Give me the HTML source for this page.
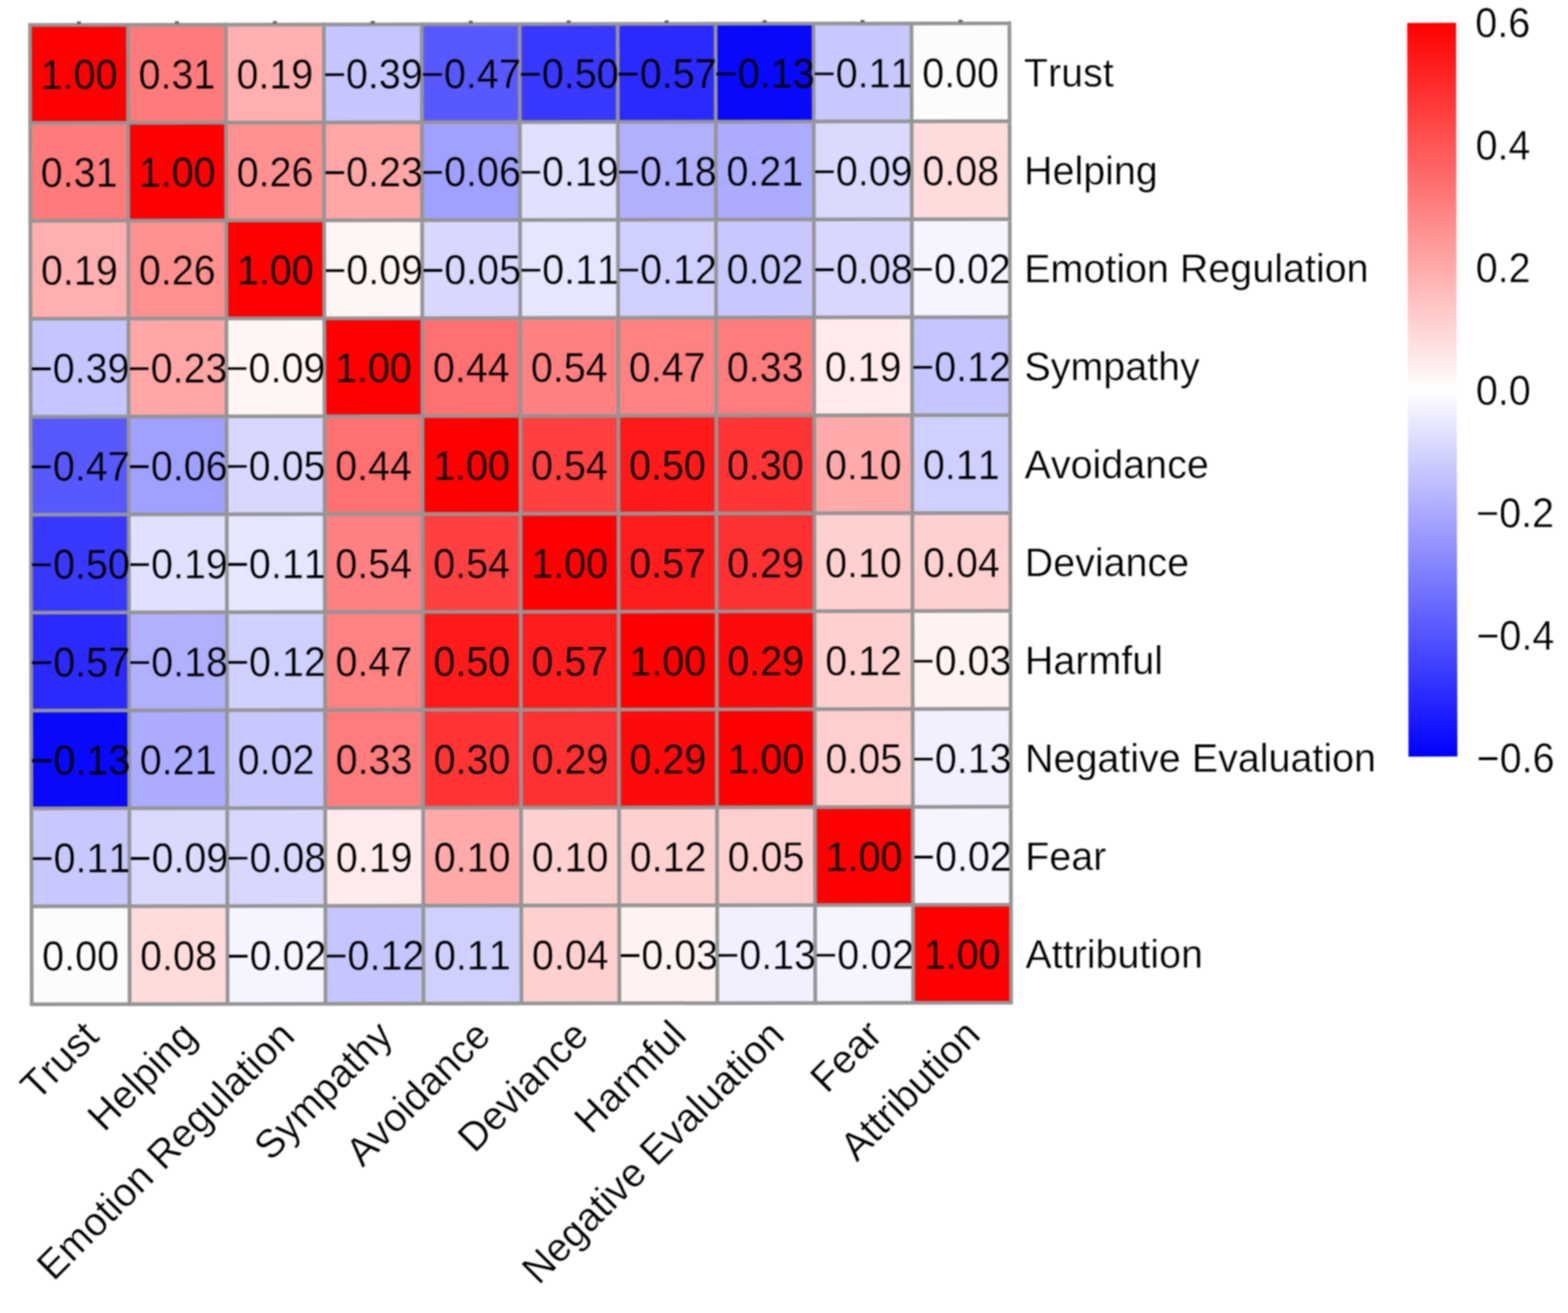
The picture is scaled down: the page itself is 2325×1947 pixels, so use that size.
<!DOCTYPE html>
<html><head><meta charset="utf-8"><title>Correlation heatmap</title>
<style>html,body{margin:0;padding:0;background:#fff;}svg{display:block;filter:blur(0.8px);}text{font-family:"Liberation Sans",Arial,Helvetica,sans-serif;fill:#000;font-kerning:none;font-feature-settings:"kern" 0,"liga" 0;}</style></head><body>
<svg width="2325" height="1947" viewBox="0 0 2325 1947">
<rect x="0" y="0" width="2325" height="1947" fill="#fff"/>
<g transform="rotate(-0.1)">
<g shape-rendering="crispEdges">
<rect x="44.40" y="37.10" width="145.23" height="145.23" fill="#FF0000"/>
<rect x="189.63" y="37.10" width="145.23" height="145.23" fill="#FF7B7B"/>
<rect x="334.86" y="37.10" width="145.23" height="145.23" fill="#FFAFAF"/>
<rect x="480.09" y="37.10" width="145.23" height="145.23" fill="#C5C5FF"/>
<rect x="625.32" y="37.10" width="145.23" height="145.23" fill="#5858FF"/>
<rect x="770.55" y="37.10" width="145.23" height="145.23" fill="#3838FF"/>
<rect x="915.78" y="37.10" width="145.23" height="145.23" fill="#2A2AFF"/>
<rect x="1061.01" y="37.10" width="145.23" height="145.23" fill="#0808FC"/>
<rect x="1206.24" y="37.10" width="145.23" height="145.23" fill="#C8C8FF"/>
<rect x="1351.47" y="37.10" width="145.23" height="145.23" fill="#FEFCFA"/>
<rect x="44.40" y="182.33" width="145.23" height="145.23" fill="#FF7B7B"/>
<rect x="189.63" y="182.33" width="145.23" height="145.23" fill="#FF0000"/>
<rect x="334.86" y="182.33" width="145.23" height="145.23" fill="#FF9090"/>
<rect x="480.09" y="182.33" width="145.23" height="145.23" fill="#FFA6A6"/>
<rect x="625.32" y="182.33" width="145.23" height="145.23" fill="#A0A0FF"/>
<rect x="770.55" y="182.33" width="145.23" height="145.23" fill="#E0E0FF"/>
<rect x="915.78" y="182.33" width="145.23" height="145.23" fill="#B0B0FF"/>
<rect x="1061.01" y="182.33" width="145.23" height="145.23" fill="#ABABFF"/>
<rect x="1206.24" y="182.33" width="145.23" height="145.23" fill="#DADAFF"/>
<rect x="1351.47" y="182.33" width="145.23" height="145.23" fill="#FFDCDC"/>
<rect x="44.40" y="327.56" width="145.23" height="145.23" fill="#FFAFAF"/>
<rect x="189.63" y="327.56" width="145.23" height="145.23" fill="#FF9090"/>
<rect x="334.86" y="327.56" width="145.23" height="145.23" fill="#FF0000"/>
<rect x="480.09" y="327.56" width="145.23" height="145.23" fill="#FFF5F5"/>
<rect x="625.32" y="327.56" width="145.23" height="145.23" fill="#D8D8FF"/>
<rect x="770.55" y="327.56" width="145.23" height="145.23" fill="#E6E6FF"/>
<rect x="915.78" y="327.56" width="145.23" height="145.23" fill="#D0D0FF"/>
<rect x="1061.01" y="327.56" width="145.23" height="145.23" fill="#C8C8FF"/>
<rect x="1206.24" y="327.56" width="145.23" height="145.23" fill="#D8D8FF"/>
<rect x="1351.47" y="327.56" width="145.23" height="145.23" fill="#F5F5FF"/>
<rect x="44.40" y="472.79" width="145.23" height="145.23" fill="#C5C5FF"/>
<rect x="189.63" y="472.79" width="145.23" height="145.23" fill="#FFA6A6"/>
<rect x="334.86" y="472.79" width="145.23" height="145.23" fill="#FFF5F5"/>
<rect x="480.09" y="472.79" width="145.23" height="145.23" fill="#FF0000"/>
<rect x="625.32" y="472.79" width="145.23" height="145.23" fill="#FF7070"/>
<rect x="770.55" y="472.79" width="145.23" height="145.23" fill="#FF8080"/>
<rect x="915.78" y="472.79" width="145.23" height="145.23" fill="#FF8282"/>
<rect x="1061.01" y="472.79" width="145.23" height="145.23" fill="#FF7C7C"/>
<rect x="1206.24" y="472.79" width="145.23" height="145.23" fill="#FFEBEB"/>
<rect x="1351.47" y="472.79" width="145.23" height="145.23" fill="#C5C5FF"/>
<rect x="44.40" y="618.02" width="145.23" height="145.23" fill="#5858FF"/>
<rect x="189.63" y="618.02" width="145.23" height="145.23" fill="#A0A0FF"/>
<rect x="334.86" y="618.02" width="145.23" height="145.23" fill="#D8D8FF"/>
<rect x="480.09" y="618.02" width="145.23" height="145.23" fill="#FF7070"/>
<rect x="625.32" y="618.02" width="145.23" height="145.23" fill="#FF0000"/>
<rect x="770.55" y="618.02" width="145.23" height="145.23" fill="#FF4040"/>
<rect x="915.78" y="618.02" width="145.23" height="145.23" fill="#FF1A1A"/>
<rect x="1061.01" y="618.02" width="145.23" height="145.23" fill="#FF3535"/>
<rect x="1206.24" y="618.02" width="145.23" height="145.23" fill="#FFAAAA"/>
<rect x="1351.47" y="618.02" width="145.23" height="145.23" fill="#D0D0FF"/>
<rect x="44.40" y="763.25" width="145.23" height="145.23" fill="#3838FF"/>
<rect x="189.63" y="763.25" width="145.23" height="145.23" fill="#E0E0FF"/>
<rect x="334.86" y="763.25" width="145.23" height="145.23" fill="#E6E6FF"/>
<rect x="480.09" y="763.25" width="145.23" height="145.23" fill="#FF8080"/>
<rect x="625.32" y="763.25" width="145.23" height="145.23" fill="#FF4040"/>
<rect x="770.55" y="763.25" width="145.23" height="145.23" fill="#FF0000"/>
<rect x="915.78" y="763.25" width="145.23" height="145.23" fill="#FF1C1C"/>
<rect x="1061.01" y="763.25" width="145.23" height="145.23" fill="#FF3030"/>
<rect x="1206.24" y="763.25" width="145.23" height="145.23" fill="#FFD0D0"/>
<rect x="1351.47" y="763.25" width="145.23" height="145.23" fill="#FFD0D0"/>
<rect x="44.40" y="908.48" width="145.23" height="145.23" fill="#2A2AFF"/>
<rect x="189.63" y="908.48" width="145.23" height="145.23" fill="#B0B0FF"/>
<rect x="334.86" y="908.48" width="145.23" height="145.23" fill="#D0D0FF"/>
<rect x="480.09" y="908.48" width="145.23" height="145.23" fill="#FF8282"/>
<rect x="625.32" y="908.48" width="145.23" height="145.23" fill="#FF1A1A"/>
<rect x="770.55" y="908.48" width="145.23" height="145.23" fill="#FF1C1C"/>
<rect x="915.78" y="908.48" width="145.23" height="145.23" fill="#FF0000"/>
<rect x="1061.01" y="908.48" width="145.23" height="145.23" fill="#FF0A0A"/>
<rect x="1206.24" y="908.48" width="145.23" height="145.23" fill="#FFD0D0"/>
<rect x="1351.47" y="908.48" width="145.23" height="145.23" fill="#FFF2F2"/>
<rect x="44.40" y="1053.71" width="145.23" height="145.23" fill="#0808FC"/>
<rect x="189.63" y="1053.71" width="145.23" height="145.23" fill="#ABABFF"/>
<rect x="334.86" y="1053.71" width="145.23" height="145.23" fill="#C8C8FF"/>
<rect x="480.09" y="1053.71" width="145.23" height="145.23" fill="#FF7C7C"/>
<rect x="625.32" y="1053.71" width="145.23" height="145.23" fill="#FF3535"/>
<rect x="770.55" y="1053.71" width="145.23" height="145.23" fill="#FF3030"/>
<rect x="915.78" y="1053.71" width="145.23" height="145.23" fill="#FF0A0A"/>
<rect x="1061.01" y="1053.71" width="145.23" height="145.23" fill="#FF0000"/>
<rect x="1206.24" y="1053.71" width="145.23" height="145.23" fill="#FFCFCF"/>
<rect x="1351.47" y="1053.71" width="145.23" height="145.23" fill="#F0F0FF"/>
<rect x="44.40" y="1198.94" width="145.23" height="145.23" fill="#C8C8FF"/>
<rect x="189.63" y="1198.94" width="145.23" height="145.23" fill="#DADAFF"/>
<rect x="334.86" y="1198.94" width="145.23" height="145.23" fill="#D8D8FF"/>
<rect x="480.09" y="1198.94" width="145.23" height="145.23" fill="#FFEBEB"/>
<rect x="625.32" y="1198.94" width="145.23" height="145.23" fill="#FFAAAA"/>
<rect x="770.55" y="1198.94" width="145.23" height="145.23" fill="#FFD0D0"/>
<rect x="915.78" y="1198.94" width="145.23" height="145.23" fill="#FFD0D0"/>
<rect x="1061.01" y="1198.94" width="145.23" height="145.23" fill="#FFCFCF"/>
<rect x="1206.24" y="1198.94" width="145.23" height="145.23" fill="#FF0000"/>
<rect x="1351.47" y="1198.94" width="145.23" height="145.23" fill="#F5F5FF"/>
<rect x="44.40" y="1344.17" width="145.23" height="145.23" fill="#FEFCFA"/>
<rect x="189.63" y="1344.17" width="145.23" height="145.23" fill="#FFDCDC"/>
<rect x="334.86" y="1344.17" width="145.23" height="145.23" fill="#F5F5FF"/>
<rect x="480.09" y="1344.17" width="145.23" height="145.23" fill="#C5C5FF"/>
<rect x="625.32" y="1344.17" width="145.23" height="145.23" fill="#D0D0FF"/>
<rect x="770.55" y="1344.17" width="145.23" height="145.23" fill="#FFD0D0"/>
<rect x="915.78" y="1344.17" width="145.23" height="145.23" fill="#FFF2F2"/>
<rect x="1061.01" y="1344.17" width="145.23" height="145.23" fill="#F0F0FF"/>
<rect x="1206.24" y="1344.17" width="145.23" height="145.23" fill="#F5F5FF"/>
<rect x="1351.47" y="1344.17" width="145.23" height="145.23" fill="#FF0000"/>
</g>
<path d="M44.40 34.35V1492.15M41.65 37.10H1499.45M189.63 34.35V1492.15M41.65 182.33H1499.45M334.86 34.35V1492.15M41.65 327.56H1499.45M480.09 34.35V1492.15M41.65 472.79H1499.45M625.32 34.35V1492.15M41.65 618.02H1499.45M770.55 34.35V1492.15M41.65 763.25H1499.45M915.78 34.35V1492.15M41.65 908.48H1499.45M1061.01 34.35V1492.15M41.65 1053.71H1499.45M1206.24 34.35V1492.15M41.65 1198.94H1499.45M1351.47 34.35V1492.15M41.65 1344.17H1499.45M1496.70 34.35V1492.15M41.65 1489.40H1499.45" stroke="#959595" stroke-width="5.5" fill="none"/>
<rect x="114.01" y="31.85" width="6" height="4" fill="#666"/><rect x="259.24" y="31.85" width="6" height="4" fill="#666"/><rect x="404.47" y="31.85" width="6" height="4" fill="#666"/><rect x="549.70" y="31.85" width="6" height="4" fill="#666"/><rect x="694.93" y="31.85" width="6" height="4" fill="#666"/><rect x="840.16" y="31.85" width="6" height="4" fill="#666"/><rect x="985.39" y="31.85" width="6" height="4" fill="#666"/><rect x="1130.62" y="31.85" width="6" height="4" fill="#666"/><rect x="1275.86" y="31.85" width="6" height="4" fill="#666"/><rect x="1421.09" y="31.85" width="6" height="4" fill="#666"/>
<g font-size="58.5" text-anchor="middle">
<text transform="translate(117.01,132.02) scale(1,1.056)" stroke="#FF0000" stroke-width="0.5">1.00</text>
<text transform="translate(262.24,132.02) scale(1,1.056)" stroke="#FF7B7B" stroke-width="0.5">0.31</text>
<text transform="translate(407.47,132.02) scale(1,1.056)" stroke="#FFAFAF" stroke-width="0.5">0.19</text>
<text transform="translate(552.70,132.02) scale(1,1.056)" stroke="#C5C5FF" stroke-width="0.5">−0.39</text>
<text transform="translate(697.93,132.02) scale(1,1.056)" stroke="#5858FF" stroke-width="0.5">−0.47</text>
<text transform="translate(843.16,132.02) scale(1,1.056)" stroke="#3838FF" stroke-width="0.5">−0.50</text>
<text transform="translate(988.39,132.02) scale(1,1.056)" stroke="#2A2AFF" stroke-width="0.5">−0.57</text>
<text transform="translate(1133.62,132.02) scale(1,1.056)" stroke="#0808FC" stroke-width="0.5">−0.13</text>
<text transform="translate(1278.86,132.02) scale(1,1.056)" stroke="#C8C8FF" stroke-width="0.5">−0.11</text>
<text transform="translate(1424.09,132.02) scale(1,1.056)" stroke="#FEFCFA" stroke-width="0.5">0.00</text>
<text transform="translate(117.01,277.24) scale(1,1.056)" stroke="#FF7B7B" stroke-width="0.5">0.31</text>
<text transform="translate(262.24,277.24) scale(1,1.056)" stroke="#FF0000" stroke-width="0.5">1.00</text>
<text transform="translate(407.47,277.24) scale(1,1.056)" stroke="#FF9090" stroke-width="0.5">0.26</text>
<text transform="translate(552.70,277.24) scale(1,1.056)" stroke="#FFA6A6" stroke-width="0.5">−0.23</text>
<text transform="translate(697.93,277.24) scale(1,1.056)" stroke="#A0A0FF" stroke-width="0.5">−0.06</text>
<text transform="translate(843.16,277.24) scale(1,1.056)" stroke="#E0E0FF" stroke-width="0.5">−0.19</text>
<text transform="translate(988.39,277.24) scale(1,1.056)" stroke="#B0B0FF" stroke-width="0.5">−0.18</text>
<text transform="translate(1133.62,277.24) scale(1,1.056)" stroke="#ABABFF" stroke-width="0.5">0.21</text>
<text transform="translate(1278.86,277.24) scale(1,1.056)" stroke="#DADAFF" stroke-width="0.5">−0.09</text>
<text transform="translate(1424.09,277.24) scale(1,1.056)" stroke="#FFDCDC" stroke-width="0.5">0.08</text>
<text transform="translate(117.01,422.48) scale(1,1.056)" stroke="#FFAFAF" stroke-width="0.5">0.19</text>
<text transform="translate(262.24,422.48) scale(1,1.056)" stroke="#FF9090" stroke-width="0.5">0.26</text>
<text transform="translate(407.47,422.48) scale(1,1.056)" stroke="#FF0000" stroke-width="0.5">1.00</text>
<text transform="translate(552.70,422.48) scale(1,1.056)" stroke="#FFF5F5" stroke-width="0.5">−0.09</text>
<text transform="translate(697.93,422.48) scale(1,1.056)" stroke="#D8D8FF" stroke-width="0.5">−0.05</text>
<text transform="translate(843.16,422.48) scale(1,1.056)" stroke="#E6E6FF" stroke-width="0.5">−0.11</text>
<text transform="translate(988.39,422.48) scale(1,1.056)" stroke="#D0D0FF" stroke-width="0.5">−0.12</text>
<text transform="translate(1133.62,422.48) scale(1,1.056)" stroke="#C8C8FF" stroke-width="0.5">0.02</text>
<text transform="translate(1278.86,422.48) scale(1,1.056)" stroke="#D8D8FF" stroke-width="0.5">−0.08</text>
<text transform="translate(1424.09,422.48) scale(1,1.056)" stroke="#F5F5FF" stroke-width="0.5">−0.02</text>
<text transform="translate(117.01,567.70) scale(1,1.056)" stroke="#C5C5FF" stroke-width="0.5">−0.39</text>
<text transform="translate(262.24,567.70) scale(1,1.056)" stroke="#FFA6A6" stroke-width="0.5">−0.23</text>
<text transform="translate(407.47,567.70) scale(1,1.056)" stroke="#FFF5F5" stroke-width="0.5">−0.09</text>
<text transform="translate(552.70,567.70) scale(1,1.056)" stroke="#FF0000" stroke-width="0.5">1.00</text>
<text transform="translate(697.93,567.70) scale(1,1.056)" stroke="#FF7070" stroke-width="0.5">0.44</text>
<text transform="translate(843.16,567.70) scale(1,1.056)" stroke="#FF8080" stroke-width="0.5">0.54</text>
<text transform="translate(988.39,567.70) scale(1,1.056)" stroke="#FF8282" stroke-width="0.5">0.47</text>
<text transform="translate(1133.62,567.70) scale(1,1.056)" stroke="#FF7C7C" stroke-width="0.5">0.33</text>
<text transform="translate(1278.86,567.70) scale(1,1.056)" stroke="#FFEBEB" stroke-width="0.5">0.19</text>
<text transform="translate(1424.09,567.70) scale(1,1.056)" stroke="#C5C5FF" stroke-width="0.5">−0.12</text>
<text transform="translate(117.01,712.93) scale(1,1.056)" stroke="#5858FF" stroke-width="0.5">−0.47</text>
<text transform="translate(262.24,712.93) scale(1,1.056)" stroke="#A0A0FF" stroke-width="0.5">−0.06</text>
<text transform="translate(407.47,712.93) scale(1,1.056)" stroke="#D8D8FF" stroke-width="0.5">−0.05</text>
<text transform="translate(552.70,712.93) scale(1,1.056)" stroke="#FF7070" stroke-width="0.5">0.44</text>
<text transform="translate(697.93,712.93) scale(1,1.056)" stroke="#FF0000" stroke-width="0.5">1.00</text>
<text transform="translate(843.16,712.93) scale(1,1.056)" stroke="#FF4040" stroke-width="0.5">0.54</text>
<text transform="translate(988.39,712.93) scale(1,1.056)" stroke="#FF1A1A" stroke-width="0.5">0.50</text>
<text transform="translate(1133.62,712.93) scale(1,1.056)" stroke="#FF3535" stroke-width="0.5">0.30</text>
<text transform="translate(1278.86,712.93) scale(1,1.056)" stroke="#FFAAAA" stroke-width="0.5">0.10</text>
<text transform="translate(1424.09,712.93) scale(1,1.056)" stroke="#D0D0FF" stroke-width="0.5">0.11</text>
<text transform="translate(117.01,858.16) scale(1,1.056)" stroke="#3838FF" stroke-width="0.5">−0.50</text>
<text transform="translate(262.24,858.16) scale(1,1.056)" stroke="#E0E0FF" stroke-width="0.5">−0.19</text>
<text transform="translate(407.47,858.16) scale(1,1.056)" stroke="#E6E6FF" stroke-width="0.5">−0.11</text>
<text transform="translate(552.70,858.16) scale(1,1.056)" stroke="#FF8080" stroke-width="0.5">0.54</text>
<text transform="translate(697.93,858.16) scale(1,1.056)" stroke="#FF4040" stroke-width="0.5">0.54</text>
<text transform="translate(843.16,858.16) scale(1,1.056)" stroke="#FF0000" stroke-width="0.5">1.00</text>
<text transform="translate(988.39,858.16) scale(1,1.056)" stroke="#FF1C1C" stroke-width="0.5">0.57</text>
<text transform="translate(1133.62,858.16) scale(1,1.056)" stroke="#FF3030" stroke-width="0.5">0.29</text>
<text transform="translate(1278.86,858.16) scale(1,1.056)" stroke="#FFD0D0" stroke-width="0.5">0.10</text>
<text transform="translate(1424.09,858.16) scale(1,1.056)" stroke="#FFD0D0" stroke-width="0.5">0.04</text>
<text transform="translate(117.01,1003.39) scale(1,1.056)" stroke="#2A2AFF" stroke-width="0.5">−0.57</text>
<text transform="translate(262.24,1003.39) scale(1,1.056)" stroke="#B0B0FF" stroke-width="0.5">−0.18</text>
<text transform="translate(407.47,1003.39) scale(1,1.056)" stroke="#D0D0FF" stroke-width="0.5">−0.12</text>
<text transform="translate(552.70,1003.39) scale(1,1.056)" stroke="#FF8282" stroke-width="0.5">0.47</text>
<text transform="translate(697.93,1003.39) scale(1,1.056)" stroke="#FF1A1A" stroke-width="0.5">0.50</text>
<text transform="translate(843.16,1003.39) scale(1,1.056)" stroke="#FF1C1C" stroke-width="0.5">0.57</text>
<text transform="translate(988.39,1003.39) scale(1,1.056)" stroke="#FF0000" stroke-width="0.5">1.00</text>
<text transform="translate(1133.62,1003.39) scale(1,1.056)" stroke="#FF0A0A" stroke-width="0.5">0.29</text>
<text transform="translate(1278.86,1003.39) scale(1,1.056)" stroke="#FFD0D0" stroke-width="0.5">0.12</text>
<text transform="translate(1424.09,1003.39) scale(1,1.056)" stroke="#FFF2F2" stroke-width="0.5">−0.03</text>
<text transform="translate(117.01,1148.62) scale(1,1.056)" stroke="#0808FC" stroke-width="0.5">−0.13</text>
<text transform="translate(262.24,1148.62) scale(1,1.056)" stroke="#ABABFF" stroke-width="0.5">0.21</text>
<text transform="translate(407.47,1148.62) scale(1,1.056)" stroke="#C8C8FF" stroke-width="0.5">0.02</text>
<text transform="translate(552.70,1148.62) scale(1,1.056)" stroke="#FF7C7C" stroke-width="0.5">0.33</text>
<text transform="translate(697.93,1148.62) scale(1,1.056)" stroke="#FF3535" stroke-width="0.5">0.30</text>
<text transform="translate(843.16,1148.62) scale(1,1.056)" stroke="#FF3030" stroke-width="0.5">0.29</text>
<text transform="translate(988.39,1148.62) scale(1,1.056)" stroke="#FF0A0A" stroke-width="0.5">0.29</text>
<text transform="translate(1133.62,1148.62) scale(1,1.056)" stroke="#FF0000" stroke-width="0.5">1.00</text>
<text transform="translate(1278.86,1148.62) scale(1,1.056)" stroke="#FFCFCF" stroke-width="0.5">0.05</text>
<text transform="translate(1424.09,1148.62) scale(1,1.056)" stroke="#F0F0FF" stroke-width="0.5">−0.13</text>
<text transform="translate(117.01,1293.85) scale(1,1.056)" stroke="#C8C8FF" stroke-width="0.5">−0.11</text>
<text transform="translate(262.24,1293.85) scale(1,1.056)" stroke="#DADAFF" stroke-width="0.5">−0.09</text>
<text transform="translate(407.47,1293.85) scale(1,1.056)" stroke="#D8D8FF" stroke-width="0.5">−0.08</text>
<text transform="translate(552.70,1293.85) scale(1,1.056)" stroke="#FFEBEB" stroke-width="0.5">0.19</text>
<text transform="translate(697.93,1293.85) scale(1,1.056)" stroke="#FFAAAA" stroke-width="0.5">0.10</text>
<text transform="translate(843.16,1293.85) scale(1,1.056)" stroke="#FFD0D0" stroke-width="0.5">0.10</text>
<text transform="translate(988.39,1293.85) scale(1,1.056)" stroke="#FFD0D0" stroke-width="0.5">0.12</text>
<text transform="translate(1133.62,1293.85) scale(1,1.056)" stroke="#FFCFCF" stroke-width="0.5">0.05</text>
<text transform="translate(1278.86,1293.85) scale(1,1.056)" stroke="#FF0000" stroke-width="0.5">1.00</text>
<text transform="translate(1424.09,1293.85) scale(1,1.056)" stroke="#F5F5FF" stroke-width="0.5">−0.02</text>
<text transform="translate(117.01,1439.08) scale(1,1.056)" stroke="#FEFCFA" stroke-width="0.5">0.00</text>
<text transform="translate(262.24,1439.08) scale(1,1.056)" stroke="#FFDCDC" stroke-width="0.5">0.08</text>
<text transform="translate(407.47,1439.08) scale(1,1.056)" stroke="#F5F5FF" stroke-width="0.5">−0.02</text>
<text transform="translate(552.70,1439.08) scale(1,1.056)" stroke="#C5C5FF" stroke-width="0.5">−0.12</text>
<text transform="translate(697.93,1439.08) scale(1,1.056)" stroke="#D0D0FF" stroke-width="0.5">0.11</text>
<text transform="translate(843.16,1439.08) scale(1,1.056)" stroke="#FFD0D0" stroke-width="0.5">0.04</text>
<text transform="translate(988.39,1439.08) scale(1,1.056)" stroke="#FFF2F2" stroke-width="0.5">−0.03</text>
<text transform="translate(1133.62,1439.08) scale(1,1.056)" stroke="#F0F0FF" stroke-width="0.5">−0.13</text>
<text transform="translate(1278.86,1439.08) scale(1,1.056)" stroke="#F5F5FF" stroke-width="0.5">−0.02</text>
<text transform="translate(1424.09,1439.08) scale(1,1.056)" stroke="#FF0000" stroke-width="0.5">1.00</text>
</g>
<g font-size="58.5" stroke="#fff" stroke-width="0.5">
<text transform="translate(1518,131.02) scale(1,1.015)">Trust</text>
<text transform="translate(1518,276.24) scale(1,1.015)">Helping</text>
<text transform="translate(1518,421.48) scale(1,1.015)">Emotion Regulation</text>
<text transform="translate(1518,566.70) scale(1,1.015)">Sympathy</text>
<text transform="translate(1518,711.93) scale(1,1.015)">Avoidance</text>
<text transform="translate(1518,857.16) scale(1,1.015)">Deviance</text>
<text transform="translate(1518,1002.39) scale(1,1.015)">Harmful</text>
<text transform="translate(1518,1147.62) scale(1,1.015)">Negative Evaluation</text>
<text transform="translate(1518,1292.85) scale(1,1.015)">Fear</text>
<text transform="translate(1518,1438.08) scale(1,1.015)">Attribution</text>
</g>
<g font-size="58.5" text-anchor="end" stroke="#fff" stroke-width="0.5">
<text transform="translate(117.01,1510.40) rotate(-45) scale(1,1.015)" y="41.38">Trust</text>
<text transform="translate(262.24,1510.40) rotate(-45) scale(1,1.015)" y="41.38">Helping</text>
<text transform="translate(407.47,1510.40) rotate(-45) scale(1,1.015)" y="41.38">Emotion Regulation</text>
<text transform="translate(552.70,1510.40) rotate(-45) scale(1,1.015)" y="41.38">Sympathy</text>
<text transform="translate(697.93,1510.40) rotate(-45) scale(1,1.015)" y="41.38">Avoidance</text>
<text transform="translate(843.16,1510.40) rotate(-45) scale(1,1.015)" y="41.38">Deviance</text>
<text transform="translate(988.39,1510.40) rotate(-45) scale(1,1.015)" y="41.38">Harmful</text>
<text transform="translate(1133.62,1510.40) rotate(-45) scale(1,1.015)" y="41.38">Negative Evaluation</text>
<text transform="translate(1278.86,1510.40) rotate(-45) scale(1,1.015)" y="41.38">Fear</text>
<text transform="translate(1424.09,1510.40) rotate(-45) scale(1,1.015)" y="41.38">Attribution</text>
</g>
<defs><linearGradient id="lg" x1="0" y1="0" x2="0" y2="1"><stop offset="0" stop-color="#ff0000"/><stop offset="0.5" stop-color="#ffffff"/><stop offset="1" stop-color="#0000ff"/></linearGradient></defs>
<rect x="2086.5" y="37.6" width="72.5" height="1088" fill="url(#lg)"/>
<g font-size="58.5" stroke="#fff" stroke-width="0.5">
<text transform="translate(2187.5,58.80) scale(1,1.056)">0.6</text>
<text transform="translate(2187.5,240.55) scale(1,1.056)">0.4</text>
<text transform="translate(2187.5,422.30) scale(1,1.056)">0.2</text>
<text transform="translate(2187.5,604.05) scale(1,1.056)">0.0</text>
<text transform="translate(2187.5,785.80) scale(1,1.056)">−0.2</text>
<text transform="translate(2187.5,967.55) scale(1,1.056)">−0.4</text>
<text transform="translate(2187.5,1149.30) scale(1,1.056)">−0.6</text>
</g>
</g></svg>
</body></html>
